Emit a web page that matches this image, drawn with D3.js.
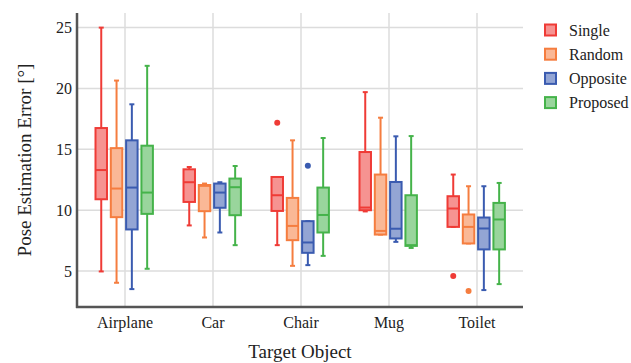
<!DOCTYPE html>
<html>
<head>
<meta charset="utf-8">
<script src="https://cdn.jsdelivr.net/npm/d3@7"></script>
<style>
  body { margin: 0; background: #fff; }
  svg { font-family: "Liberation Serif", "DejaVu Serif", serif; }
</style>
</head>
<body>
<svg id="chart" width="631" height="363"></svg>
<script>
// categories and series
var categories = ['Airplane', 'Car', 'Chair', 'Mug', 'Toilet'];
var series = ['Single', 'Random', 'Opposite', 'Proposed'];
var colors = ['#ef3b36', '#f57d3f', '#3a5bb0', '#45b34a'];
var yTicks = [5, 10, 15, 20, 25];

// box stats per category: [lower whisker, q1, median, q3, upper whisker]
var singleStats = [
    [4.97, 10.9, 13.3, 16.75, 25.0],
    [8.75, 10.68, 12.3, 13.36, 13.55],
    [7.13, 9.94, 11.23, 12.73, 12.73],
    [9.9, 10.0, 10.22, 14.78, 19.7],
    [8.63, 8.63, 10.14, 11.15, 12.93]
];
var randomStats = [
    [4.04, 9.43, 11.78, 15.1, 20.65],
    [7.76, 9.92, 12.0, 12.07, 12.19],
    [5.43, 7.54, 8.71, 11.01, 15.74],
    [8.0, 8.0, 8.3, 12.93, 17.6],
    [7.27, 7.27, 8.63, 9.65, 11.97]
];
var oppositeStats = [
    [3.52, 8.42, 11.86, 15.74, 18.7],
    [8.17, 10.2, 11.45, 12.19, 12.3],
    [5.49, 6.5, 7.35, 9.1, 9.1],
    [7.4, 7.68, 8.48, 12.32, 16.07],
    [3.44, 6.78, 8.5, 9.4, 11.97]
];
var proposedStats = [
    [5.19, 9.7, 11.45, 15.3, 21.86],
    [7.13, 9.59, 11.89, 12.6, 13.63],
    [6.25, 8.17, 9.61, 11.86, 15.93],
    [6.9, 7.07, 7.13, 11.23, 16.09],
    [3.93, 6.78, 9.24, 10.6, 12.24]
];
var allStats = [singleStats, randomStats, oppositeStats, proposedStats];

// outliers: [series index, category index, value]
var outliers = [
    [0, 2, 17.19],
    [2, 2, 13.66],
    [0, 4, 4.59],
    [1, 4, 3.36]
];

var svg = d3.select('#chart');
var plot = {left: 77, right: 523, top: 13, bottom: 307};

var x = d3.scaleBand().domain(categories).range([81, 521]);
var xSub = d3.scaleBand().domain(series).range([-29.5, 27.9]).paddingInner(0.25);
var y = d3.scaleLinear().domain([2.05, 26.2]).range([plot.bottom, plot.top]);

function cx(c) { return x(c) + x.bandwidth() / 2; }

// grid
var grid = svg.append('g').attr('class', 'grid');
grid.selectAll('.hgrid').data(yTicks).enter().append('line')
    .attr('x1', plot.left).attr('x2', plot.right)
    .attr('y1', function (d) { return y(d); })
    .attr('y2', function (d) { return y(d); })
    .attr('stroke', '#dcdcdc').attr('stroke-width', 1.5);
grid.selectAll('.vgrid').data(categories).enter().append('line')
    .attr('x1', cx).attr('x2', cx)
    .attr('y1', plot.top).attr('y2', plot.bottom)
    .attr('stroke', '#dcdcdc').attr('stroke-width', 1.5);

// boxes
var bw = xSub.bandwidth();
allStats.forEach(function (stats, si) {
    var col = colors[si];
    var g = svg.append('g').attr('class', 'series-' + si);
    stats.forEach(function (s, ci) {
        var xc = cx(categories[ci]) + xSub(series[si]) + bw / 2;
        // whiskers
        g.append('line').attr('x1', xc).attr('x2', xc)
            .attr('y1', y(s[0])).attr('y2', y(s[4]))
            .attr('stroke', col).attr('stroke-width', 2);
        [s[0], s[4]].forEach(function (v) {
            g.append('line').attr('x1', xc - 2.5).attr('x2', xc + 2.5)
                .attr('y1', y(v)).attr('y2', y(v))
                .attr('stroke', col).attr('stroke-width', 2);
        });
        // box
        g.append('rect')
            .attr('x', xc - bw / 2).attr('width', bw)
            .attr('y', y(s[3])).attr('height', Math.max(1, y(s[1]) - y(s[3])))
            .attr('fill', '#fff');
        g.append('rect')
            .attr('x', xc - bw / 2).attr('width', bw)
            .attr('y', y(s[3])).attr('height', Math.max(1, y(s[1]) - y(s[3])))
            .attr('fill', col).attr('fill-opacity', 0.55)
            .attr('stroke', col).attr('stroke-width', 2);
        // median
        g.append('line').attr('x1', xc - bw / 2).attr('x2', xc + bw / 2)
            .attr('y1', y(s[2])).attr('y2', y(s[2]))
            .attr('stroke', col).attr('stroke-width', 2);
    });
});

// outlier points
svg.append('g').selectAll('circle').data(outliers).enter().append('circle')
    .attr('cx', function (d) { return cx(categories[d[1]]) + xSub(series[d[0]]) + bw / 2; })
    .attr('cy', function (d) { return y(d[2]); })
    .attr('r', 3)
    .attr('fill', function (d) { return colors[d[0]]; });

// axes lines
svg.append('line').attr('x1', plot.left).attr('x2', plot.left)
    .attr('y1', plot.top).attr('y2', plot.bottom + 1)
    .attr('stroke', '#555').attr('stroke-width', 2.5);
svg.append('line').attr('x1', plot.left - 1).attr('x2', plot.right)
    .attr('y1', plot.bottom).attr('y2', plot.bottom)
    .attr('stroke', '#555').attr('stroke-width', 2.5);

// tick labels
svg.append('g').selectAll('text').data(yTicks).enter().append('text')
    .attr('x', 72).attr('y', function (d) { return y(d); })
    .attr('dy', '0.35em').attr('text-anchor', 'end')
    .style('font-size', '16px').attr('fill', '#222')
    .text(function (d) { return d; });
svg.append('g').selectAll('text').data(categories).enter().append('text')
    .attr('x', cx).attr('y', 328)
    .attr('text-anchor', 'middle')
    .style('font-size', '16px').attr('fill', '#222')
    .text(function (d) { return d; });

// axis titles
svg.append('text').attr('x', 300).attr('y', 358)
    .attr('text-anchor', 'middle').style('font-size', '19px').attr('fill', '#222')
    .text('Target Object');
svg.append('text')
    .attr('transform', 'translate(31,160) rotate(-90)')
    .attr('text-anchor', 'middle').style('font-size', '19px').attr('fill', '#222')
    .text('Pose Estimation Error [°]');

// legend
var legend = svg.append('g').attr('class', 'legend');
var items = legend.selectAll('g').data(series).enter().append('g')
    .attr('transform', function (d, i) { return 'translate(545,' + (30 + i * 24.2) + ')'; });
items.append('rect').attr('x', 0).attr('y', -5.5).attr('width', 11).attr('height', 11)
    .attr('fill', function (d, i) { return colors[i]; }).attr('fill-opacity', 0.55)
    .attr('stroke', function (d, i) { return colors[i]; }).attr('stroke-width', 2);
items.append('text').attr('x', 24).attr('dy', '0.35em')
    .style('font-size', '16px').attr('fill', '#222')
    .text(function (d) { return d; });
</script>
</body>
</html>
